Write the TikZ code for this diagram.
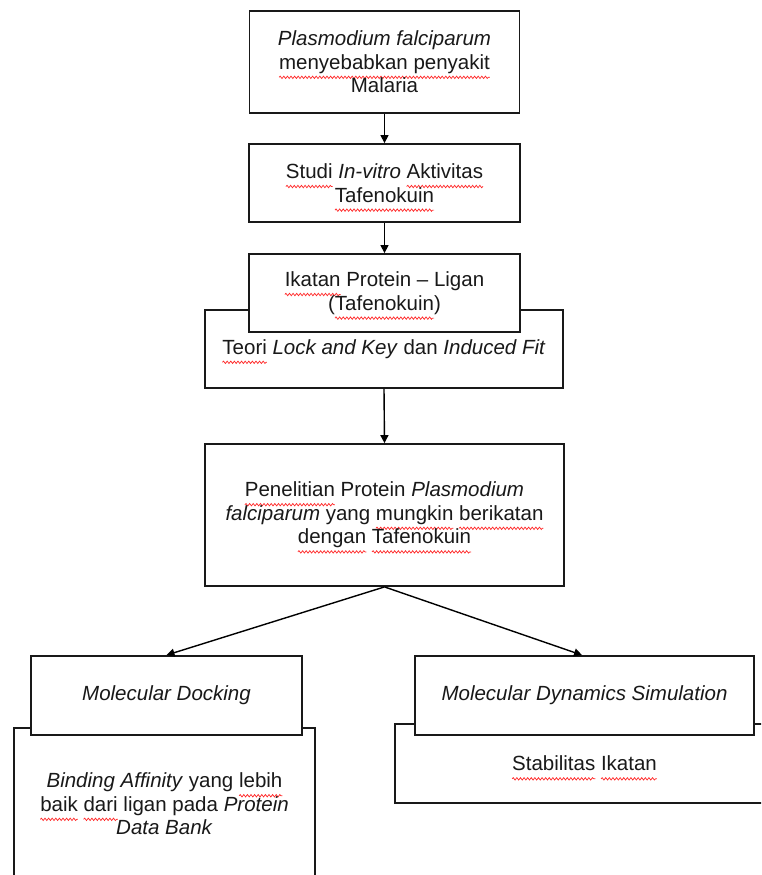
\documentclass[tikz,border=0pt]{standalone}
\usepackage{fontspec}
\setmainfont{Liberation Sans}
\usetikzlibrary{arrows.meta,decorations.pathmorphing}
\newsavebox\sqbox
\newcommand\sq[1]{\sbox\sqbox{#1}\rlap{\tikz[overlay,x=1pt,y=1pt,baseline=0pt]\draw[red!85,line width=0.7pt,decorate,decoration={snake,amplitude=1.2pt,segment length=3.6pt}] (0pt,-8pt) -- (\wd\sqbox,-8pt);}\usebox\sqbox}
\tikzset{
  box/.style={draw=black!90, line width=1.8pt, fill=white, align=center, inner sep=0pt,
    font=\fontsize{20.5}{23.6}\selectfont, text=black!90},
  conn/.style={draw=black, line width=1.4pt, -{Triangle[length=8pt,width=8pt]}}
}
\begin{document}
\begin{tikzpicture}[x=1pt,y=-1pt]
\useasboundingbox[fill=white] (0,0) rectangle (761,875);
\clip (0,0) rectangle (761,875);
% top chain
\node[box, minimum width=270pt, minimum height=102pt] (b1) at (384.5,62)
  {\textit{Plasmodium falciparum}\\\sq{menyebabkan penyakit}\\Malaria};
\node[box, minimum width=271pt, minimum height=78pt] (b2) at (384.5,183)
  {\sq{Studi} \textit{In-vitro} \sq{Aktivitas}\\\sq{Tafenokuin}};
\node[box, minimum width=358pt, minimum height=78pt] (b4) at (384,349)
  {\sq{Teori} \textit{Lock and Key} dan \textit{Induced Fit}};
\node[box, minimum width=271pt, minimum height=78pt] (b3) at (384.5,293)
  {\sq{Ikatan} Protein -- Ligan\\(\sq{Tafenokuin})};
\node[box, minimum width=359pt, minimum height=142pt] (b5) at (384.5,515)
  {\sq{Penelitian} Protein \textit{Plasmodium}\\\textit{falciparum} yang \sq{mungkin} \sq{berikatan}\\\sq{dengan} \sq{Tafenokuin}};
% lower left
\node[box, minimum width=301pt, minimum height=152pt] (ll) at (164.5,804)
  {\textit{Binding Affinity} yang \sq{lebih}\\\sq{baik} \sq{dari} ligan pada \textit{Protein}\\\textit{Data Bank}};
\node[box, minimum width=271pt, minimum height=79pt] (ld) at (166.5,695.5)
  {\textit{Molecular Docking}};
% lower right
\node[box, minimum width=379pt, minimum height=79pt] (rl) at (584.5,763.5)
  {\sq{Stabilitas} \sq{Ikatan}};
\node[box, minimum width=339pt, minimum height=79pt] (rd) at (584.5,695.5)
  {\textit{Molecular Dynamics Simulation}};
% connectors
\draw[conn] (b1.south) -- (b2.north);
\draw[conn] (b2.south) -- (b3.north);
\draw[conn] (b4.south) -- (b5.north);
\draw[conn] (b5.south) -- (ld.north);
\draw[conn] (b5.south) -- ([xshift=-2.5pt]rd.north);
\end{tikzpicture}
\end{document}
